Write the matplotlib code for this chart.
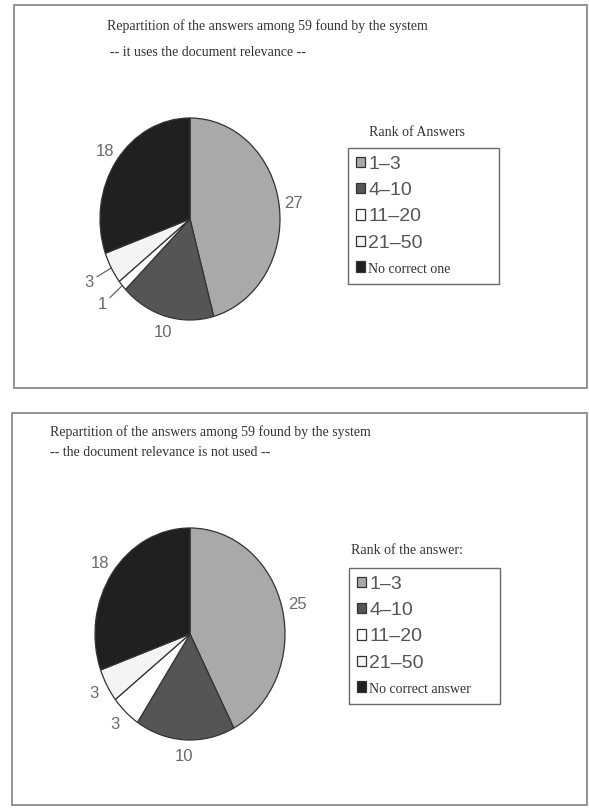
import numpy as np
import matplotlib.pyplot as plt
from matplotlib.patches import Rectangle

W, H = 589, 808

ranks = ["1–3", "4–10", "11–20", "21–50"]
colors = ["#a9a9a9", "#555555", "#ffffff", "#f4f4f4", "#202020"]

title1 = "Repartition of the answers among 59 found by the system"
sub1 = "-- it uses the document relevance --"
values1 = [27, 10, 1, 3, 18]
legend_title1 = "Rank of Answers"
last1 = "No correct one"

title2 = "Repartition of the answers among 59 found by the system"
sub2 = "-- the document relevance is not used --"
values2 = [25, 10, 3, 3, 18]
legend_title2 = "Rank of the answer:"
last2 = "No correct answer"

fig = plt.figure(figsize=(W / 100, H / 100), dpi=100)


def fx(px):
    return px / W


def fy(py):
    return 1 - py / H


def panel(box, title, sub, tpos, values, center, rx, ry, leaders,
          ltitle, lpos, lbox, last):
    # outer frame
    x0, y0, x1, y1 = box
    fig.patches.append(Rectangle((fx(x0), fy(y1)), fx(x1 - x0), (y1 - y0) / H,
                                 transform=fig.transFigure, fill=False,
                                 edgecolor="#8a8a8a", linewidth=1.3))
    fig.text(fx(tpos[0]), fy(tpos[1]), title, family="Liberation Serif",
             fontsize=10, color="#333333", va="center")
    fig.text(fx(tpos[2]), fy(tpos[3]), sub, family="Liberation Serif",
             fontsize=10, color="#333333", va="center")

    lim = 1.3
    cx, cy = center
    ax = fig.add_axes([fx(cx - lim * rx), fy(cy + lim * ry),
                       2 * lim * rx / W, 2 * lim * ry / H])
    wedges, _ = ax.pie(values, colors=colors, startangle=90, counterclock=False,
                       wedgeprops=dict(edgecolor="#333333", linewidth=0.9))
    ax.set_aspect("auto")
    ax.set_xlim(-lim, lim)
    ax.set_ylim(-lim, lim)

    for i, (w, v) in enumerate(zip(wedges, values)):
        ang = np.deg2rad((w.theta1 + w.theta2) / 2)
        if i in leaders:
            d = 1.29
            ax.plot([1.0 * np.cos(ang), 1.18 * np.cos(ang)],
                    [1.0 * np.sin(ang), 1.18 * np.sin(ang)],
                    color="#555555", lw=0.8)
        else:
            d = 1.16
        ax.text(d * np.cos(ang), d * np.sin(ang), str(v), family="Liberation Sans",
                fontsize=12, color="#6a6a6a", ha="center", va="center")

    fig.text(fx(lpos[0]), fy(lpos[1]), ltitle, family="Liberation Serif",
             fontsize=10, color="#333333", ha="center", va="center")
    leg = fig.legend(wedges, ranks + [last], loc="upper left",
                     bbox_to_anchor=(fx(lbox[0]), fy(lbox[1]), fx(lbox[2] - lbox[0]), 0.0),
                     mode="expand", borderaxespad=0, fancybox=False,
                     handlelength=0.45, handleheight=0.45, handletextpad=0.2,
                     labelspacing=0.48, borderpad=0.4,
                     prop=dict(family="Liberation Sans", size=14))
    leg.get_frame().set_edgecolor("#444444")
    leg.get_frame().set_linewidth(1.0)
    for t in leg.get_texts():
        t.set_color("#555555")
    leg.get_texts()[-1].set_family("Liberation Serif")
    leg.get_texts()[-1].set_fontsize(10)
    leg.get_texts()[-1].set_color("#333333")
    for h in leg.legend_handles:
        h.set_edgecolor("#333333")


panel((14, 5, 587, 388), title1, sub1, (107, 26, 110, 52), values1,
      (190, 219), 90, 101, {2, 3}, legend_title1, (417, 133), (348, 148, 499), last1)
panel((12, 413, 587, 805), title2, sub2, (50, 432, 50, 452), values2,
      (190, 634), 95, 106, set(), legend_title2, (407, 550), (349, 568, 500), last2)

fig.savefig("out.png", dpi=100)
